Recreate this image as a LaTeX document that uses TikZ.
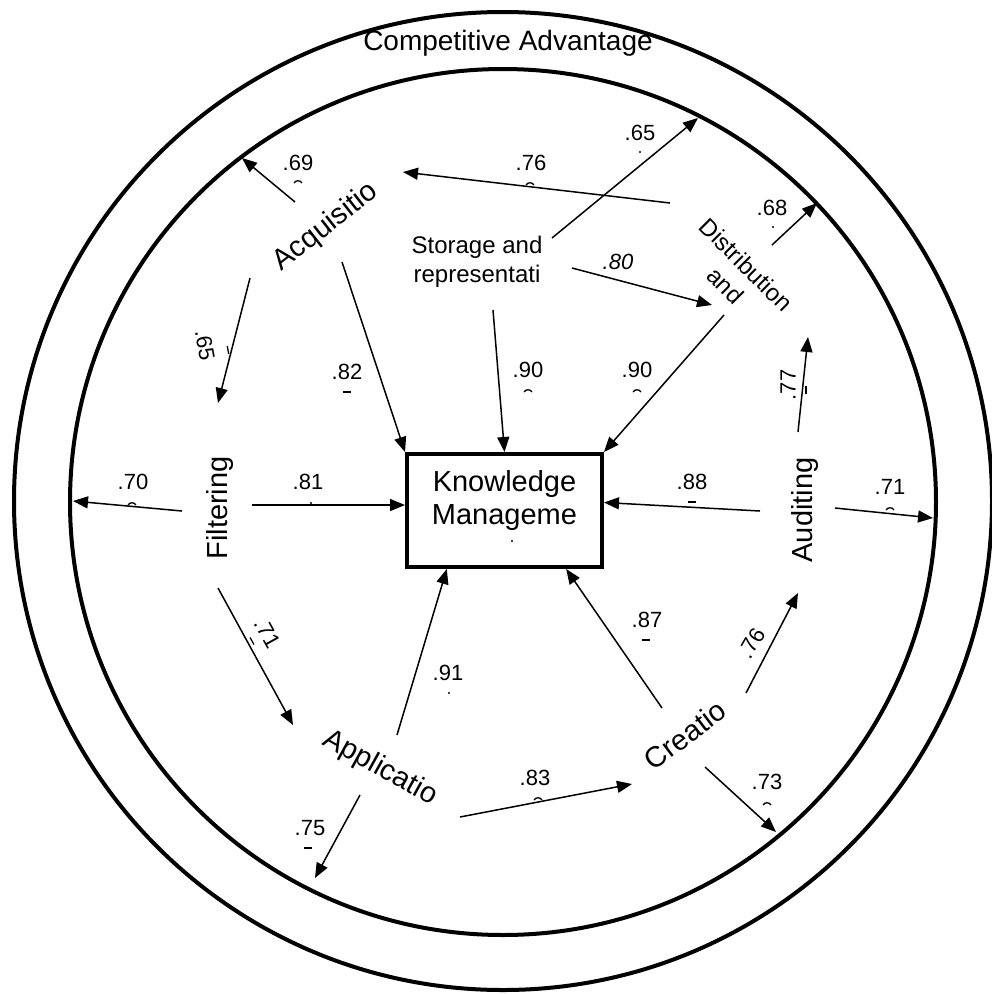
\documentclass[tikz,border=0pt]{standalone}
\usepackage{fontspec}
\setmainfont{Liberation Sans}
\usetikzlibrary{arrows.meta,calc}

\begin{document}
\begin{tikzpicture}[x=1pt,y=-1pt,
  ring/.style={line width=4pt},
  arr/.style={line width=1.5pt,-{Triangle[length=15pt,width=12pt]}},
  lab/.style={font=\fontsize{29}{33}\selectfont, inner sep=0pt, align=center},
  sublab/.style={font=\fontsize{24}{29}\selectfont, inner sep=0pt, align=center},
  num/.style={font=\fontsize{22}{24}\selectfont, inner sep=0pt},
  kmbox/.style={draw, line width=4pt, minimum width=195pt, minimum height=113pt,
    inner sep=0pt},
  dashmark/.pic={\draw[line width=1.3pt] (-4,0) -- (4,0);},
  arcmark/.pic={\draw[line width=1.3pt] (-4,2) .. controls (-2,-1) and (2,-1) .. (4,2);},
  dotmark/.pic={\fill (0,0) circle (1.2pt);}]

\useasboundingbox (0,0) rectangle (992,994);

% rings
\draw[ring] (503,501) circle [radius=489pt];
\draw[ring] (503,502) circle [radius=433pt];
\node[lab, font=\fontsize{28}{32}\selectfont] (ca) at (508,43) {Competitive Advantage};

% central construct
\node[kmbox] (km) at (504.5,510.5) {};
\node[lab] (kmtext) at (504.5,500) {Knowledge\\Manageme};
\pic at (512,541) {dotmark};

% dimensions
\node[lab, rotate=38] (acq) at (326,227) {Acquisitio};
\node[sublab] (sto) at (477,262) {Storage and\\representati};
\node[sublab, rotate=-45] (dis) at (736,275) {Distribution\\and};
\node[lab, rotate=90] (fil) at (220,508) {Filtering};
\node[lab, rotate=90] (aud) at (805,510) {Auditing};
\node[lab, rotate=-29] (app) at (380,768) {Applicatio};
\node[lab, rotate=37] (cre) at (685,735) {Creatio};

% connector end points
\coordinate (acq-ring) at (295,202);   \coordinate (ring-a) at (242,158);
\coordinate (dis-acq)  at (670,203);   \coordinate (acq-in) at (403,172);
\coordinate (sto-ring) at (552,238);   \coordinate (ring-b) at (698,118);
\coordinate (dis-ring) at (772,245);   \coordinate (ring-c) at (817,203);
\coordinate (sto-dis)  at (572,268);   \coordinate (dis-in) at (712,305);
\coordinate (acq-fil)  at (250,278);   \coordinate (fil-in) at (218,403);
\coordinate (acq-km)   at (342,262);
\coordinate (sto-km)   at (493,310);
\coordinate (dis-km)   at (724,315);
\coordinate (fil-ring) at (182,511);   \coordinate (ring-d) at (73,501);
\coordinate (fil-km)   at (252,505);
\coordinate (aud-km)   at (760,511);
\coordinate (aud-ring) at (835,508);   \coordinate (ring-e) at (933,518);
\coordinate (aud-dis)  at (798,432);   \coordinate (dis-in2) at (808,337);
\coordinate (fil-app)  at (218,588);   \coordinate (app-in) at (293,725);
\coordinate (app-km)   at (397,735);
\coordinate (app-ring) at (360,795);   \coordinate (ring-f) at (315,878);
\coordinate (app-cre)  at (460,817);   \coordinate (cre-in) at (632,784);
\coordinate (cre-km)   at (662,708);
\coordinate (cre-aud)  at (746,693);   \coordinate (aud-in) at (798,593);
\coordinate (cre-ring) at (705,767);   \coordinate (ring-g) at (776,832);

% paths
\draw[arr] (acq-ring) -- (ring-a);
\draw[arr] (dis-acq) -- (acq-in);
\draw[arr] (sto-ring) -- (ring-b);
\draw[arr] (dis-ring) -- (ring-c);
\draw[arr] (sto-dis) -- (dis-in);
\draw[arr] (acq-fil) -- (fil-in);
\draw[arr] (acq-km) -- (km.north west);
\draw[arr] (sto-km) -- (km.north);
\draw[arr] (dis-km) -- (km.north east);
\draw[arr] (fil-ring) -- (ring-d);
\draw[arr] (fil-km) -- (fil-km -| km.west);
\draw[arr] (aud-km) -- ($(km.east)+(0,-8)$);
\draw[arr] (aud-ring) -- (ring-e);
\draw[arr] (aud-dis) -- (dis-in2);
\draw[arr] (fil-app) -- (app-in);
\draw[arr] (app-km) -- ($(km.south west)!0.21!(km.south east)$);
\draw[arr] (app-ring) -- (ring-f);
\draw[arr] (app-cre) -- (cre-in);
\draw[arr] (cre-km) -- ($(km.south west)!0.81!(km.south east)$);
\draw[arr] (cre-aud) -- (aud-in);
\draw[arr] (cre-ring) -- (ring-g);

% path coefficients
\node[num] (c69) at (298,163) {.69};  \pic at (298,181) {arcmark};
\node[num] (c76) at (531,163) {.76};  \pic at (530,183) {arcmark};
\node[num] (c65) at (640,133) {.65};  \pic at (640,152) {dotmark};
\node[num] (c68) at (772,208) {.68};  \pic at (773,227) {dotmark};
\node[num, font=\fontsize{22}{24}\selectfont\itshape] (c80) at (618,262) {.80};
\node[num, rotate=-80] (c65b) at (205,345) {.65};  \pic[rotate=-80] at (228,350) {dashmark};
\node[num] (c82) at (347,372) {.82};  \pic at (347,392) {dashmark};
\node[num] (c90) at (528,370) {.90};  \pic at (528,390) {arcmark};
\node[num] (c90b) at (637,370) {.90}; \pic at (637,390) {arcmark};
\node[num] (c70) at (133,482) {.70};  \pic at (132,503) {arcmark};
\node[num] (c81) at (308,482) {.81};  \pic at (311,503) {dotmark};
\node[num] (c88) at (692,482) {.88};  \pic at (692,502) {dashmark};
\node[num] (c71) at (890,487) {.71};  \pic at (890,508) {arcmark};
\node[num, rotate=90] (c77) at (788,385) {.77};  \pic[rotate=90] at (806,390) {dashmark};
\node[num, rotate=-61] (c71b) at (268,633) {.71};  \pic[rotate=-61] at (252,641) {dashmark};
\node[num] (c91) at (448,673) {.91};  \pic at (449,693) {dotmark};
\node[num] (c75) at (310,828) {.75};  \pic at (308,848) {dashmark};
\node[num] (c83) at (535,778) {.83};  \pic at (538,798) {arcmark};
\node[num] (c87) at (647,620) {.87};  \pic at (646,640) {dashmark};
\node[num, rotate=60] (c76b) at (752,643) {.76};
\node[num] (c73) at (767,782) {.73};  \pic at (767,803) {arcmark};
\end{tikzpicture}
\end{document}
